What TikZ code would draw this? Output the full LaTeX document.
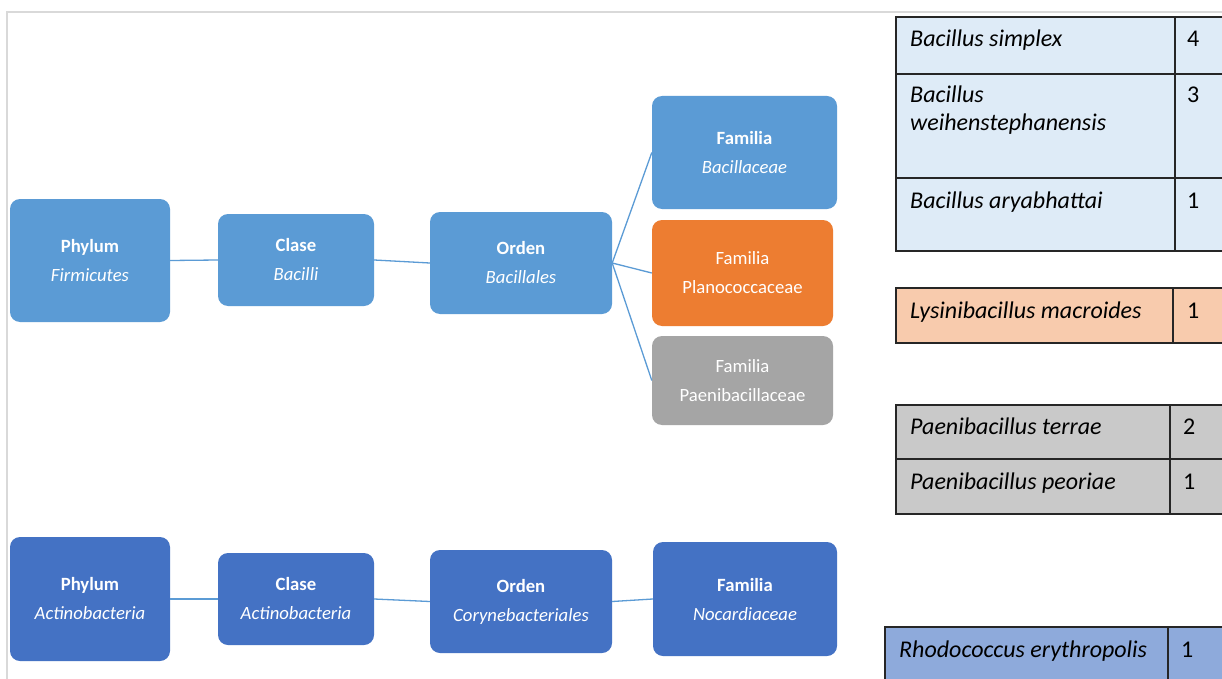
\documentclass[tikz,border=0pt]{standalone}
\usepackage{fontspec}
\setmainfont{Carlito}
\definecolor{blueA}{HTML}{5B9BD5}
\definecolor{blueB}{HTML}{4472C4}
\definecolor{orangeA}{HTML}{ED7D31}
\definecolor{grayA}{HTML}{A5A5A5}
\definecolor{frameC}{HTML}{D9D9D9}
\definecolor{tblue}{HTML}{DEEBF7}
\definecolor{torange}{HTML}{F8CBAD}
\definecolor{tgray}{HTML}{C9C9C9}
\definecolor{tdblue}{HTML}{8EAADB}
\definecolor{tline}{HTML}{262626}
\begin{document}
\begin{tikzpicture}[x=1pt,y=-1pt,
  box/.style={rounded corners=10pt, draw=none, text=white, align=center, inner sep=0pt,
    font=\fontsize{18.7}{29}\selectfont},
  conn/.style={draw=blueA, line width=1.3pt},
  cell/.style={draw=tline, line width=1.5pt},
  ctext/.style={anchor=base west, inner sep=0pt, font=\fontsize{24}{28}\selectfont\itshape, text=black},
  cnum/.style={anchor=base west, inner sep=0pt, font=\fontsize{24}{28}\selectfont, text=black}]
\useasboundingbox (0,0) rectangle (1222,679);
\begin{scope}
\clip (0,0) rectangle (1222,679);
\fill[white] (0,0) rectangle (1222,679);
% frame
\draw[frameC, line width=2pt] (1230,12) -- (7,12) -- (7,690);

% top tree
\node[box, fill=blueA, minimum width=160pt, minimum height=123pt] (phy1) at (90,260.5) {\textbf{Phylum}\\\textit{Firmicutes}};
\node[box, fill=blueA, minimum width=156pt, minimum height=92pt] (cla1) at (296,260) {\textbf{Clase}\\\textit{Bacilli}};
\node[box, fill=blueA, minimum width=182pt, minimum height=102pt] (ord1) at (521,263) {\textbf{Orden}\\\textit{Bacillales}};
\node[box, fill=blueA, minimum width=185pt, minimum height=113pt] (fam1) at (744.5,152.5) {\textbf{Familia}\\\textit{Bacillaceae}};
\node[box, fill=orangeA, minimum width=181pt, minimum height=106pt] (fam2) at (742.5,273) {Familia\\Planococcaceae};
\node[box, fill=grayA, minimum width=181pt, minimum height=89pt] (fam3) at (742.5,380.5) {Familia\\Paenibacillaceae};
\draw[conn] (phy1.east) -- (cla1.west);
\draw[conn] (cla1.east) -- (ord1.west);
\draw[conn] (ord1.east) -- (fam1.west);
\draw[conn] (ord1.east) -- (fam2.west);
\draw[conn] (ord1.east) -- (fam3.west);

% bottom tree
\node[box, fill=blueB, minimum width=160pt, minimum height=124pt] (phy2) at (90,599) {\textbf{Phylum}\\\textit{Actinobacteria}};
\node[box, fill=blueB, minimum width=156pt, minimum height=92pt] (cla2) at (296,599) {\textbf{Clase}\\\textit{Actinobacteria}};
\node[box, fill=blueB, minimum width=182pt, minimum height=103pt] (ord2) at (521,601.5) {\textbf{Orden}\\\textit{Corynebacteriales}};
\node[box, fill=blueB, minimum width=184pt, minimum height=114pt] (fam4) at (745,599) {\textbf{Familia}\\\textit{Nocardiaceae}};
\draw[conn] (phy2.east) -- (cla2.west);
\draw[conn] (cla2.east) -- (ord2.west);
\draw[conn] (ord2.east) -- (fam4.west);

% table 1
\fill[tblue] (896,17) rectangle (1230,251);
\draw[cell] (1230,17) -- (896,17) -- (896,251) -- (1230,251);
\draw[cell] (896,74) -- (1230,74);
\draw[cell] (896,178) -- (1230,178);
\draw[cell] (1175,17) -- (1175,251);
\node[ctext] (t1a) at (910,47) {Bacillus simplex};
\node[cnum] (n1a) at (1187,47) {4};
\node[ctext] (t1b) at (910,103) {Bacillus};
\node[ctext] (t1c) at (910,131) {weihenstephanensis};
\node[cnum] (n1b) at (1187,103) {3};
\node[ctext] (t1d) at (910,208) {Bacillus aryabhattai};
\node[cnum] (n1d) at (1187,208) {1};

% table 2
\fill[torange] (896,288) rectangle (1230,343);
\draw[cell] (1230,288) -- (896,288) -- (896,343) -- (1230,343);
\draw[cell] (1173,288) -- (1173,343);
\node[ctext] (t2a) at (910,318) {Lysinibacillus macroides};
\node[cnum] (n2a) at (1187,318) {1};

% table 3
\fill[tgray] (896,405) rectangle (1230,514);
\draw[cell] (1230,405) -- (896,405) -- (896,514) -- (1230,514);
\draw[cell] (896,459) -- (1230,459);
\draw[cell] (1170,405) -- (1170,514);
\node[ctext] (t3a) at (910,434) {Paenibacillus terrae};
\node[cnum] (n3a) at (1183,434) {2};
\node[ctext] (t3b) at (910,489) {Paenibacillus peoriae};
\node[cnum] (n3b) at (1183,489) {1};

% table 4
\fill[tdblue] (885,627) rectangle (1230,690);
\draw[cell] (1230,627) -- (885,627) -- (885,690);
\draw[cell] (1168,627) -- (1168,690);
\node[ctext] (t4a) at (899,657) {Rhodococcus erythropolis};
\node[cnum] (n4a) at (1181,657) {1};
\end{scope}
\end{tikzpicture}
\end{document}
